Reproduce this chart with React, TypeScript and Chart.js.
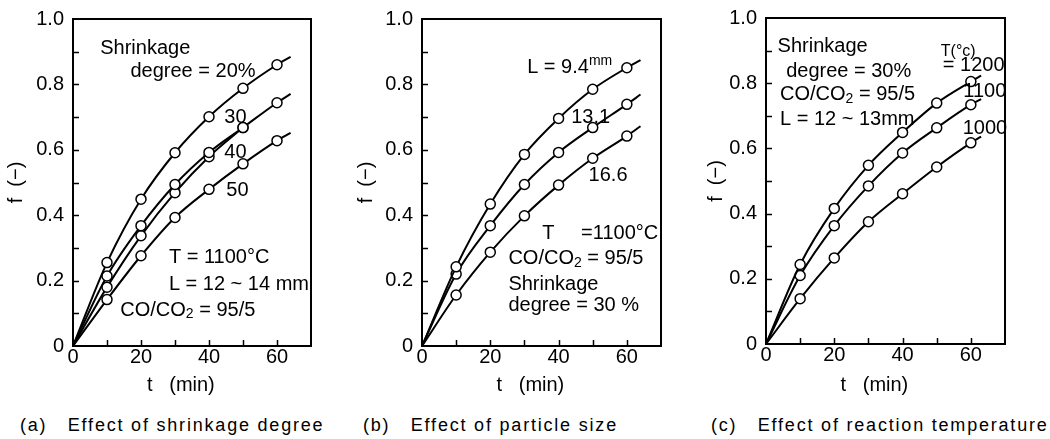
import React, { useEffect, useRef } from "react";
import { Chart, registerables } from "chart.js";

Chart.register(...registerables);

// ---- data ----
const tA = [0, 10, 20, 30, 40, 50, 60, 64];
const tA40 = [0, 10, 20, 30, 40, 50];
const fA20 = [0, 0.255, 0.449, 0.591, 0.701, 0.788, 0.86, 0.884];
const fA30 = [0, 0.214, 0.368, 0.494, 0.592, 0.668, 0.744, 0.771];
const fA40 = [0, 0.18, 0.337, 0.469, 0.579, 0.668];
const fA50 = [0, 0.142, 0.276, 0.393, 0.479, 0.557, 0.628, 0.652];

const tB = [0, 10, 20, 30, 40, 50, 60, 64];
const fB94 = [0, 0.242, 0.434, 0.586, 0.696, 0.785, 0.851, 0.874];
const fB131 = [0, 0.22, 0.368, 0.494, 0.592, 0.668, 0.739, 0.769];
const fB166 = [0, 0.156, 0.287, 0.398, 0.492, 0.574, 0.642, 0.672];

const tC = [0, 10, 20, 30, 40, 50, 60, 63];
const fC1200 = [0, 0.244, 0.416, 0.548, 0.649, 0.739, 0.805, 0.823];
const fC1100 = [0, 0.21, 0.363, 0.485, 0.586, 0.663, 0.734, 0.751];
const fC1000 = [0, 0.139, 0.264, 0.375, 0.461, 0.543, 0.617, 0.636];

const yTickLabels = ["0", "0.2", "0.4", "0.6", "0.8", "1.0"];
const xTickLabels = ["0", "20", "40", "60"];
const xMinorTicks = [10, 20, 30, 40, 50, 60];
const yMinorTicks = [0.1, 0.2, 0.3, 0.4, 0.5, 0.6, 0.7, 0.8, 0.9];

const captions = [
  "(a)   Effect of shrinkage degree",
  "(b)   Effect of particle size",
  "(c)   Effect of reaction temperature",
];

const FONT = "'Liberation Sans', Arial, sans-serif";

type Seg = { s: string; sub?: boolean; sup?: boolean };
type Note = { t: number; v: number; segs: Seg[]; size?: number };

const CO = (rest: string): Seg[] => [{ s: "CO/CO" }, { s: "2", sub: true }, { s: rest }];

const notesA: Note[] = [
  { t: 8.0, v: 0.91, segs: [{ s: "Shrinkage" }] },
  { t: 16.9, v: 0.84, segs: [{ s: "degree = 20%" }] },
  { t: 44.5, v: 0.7, segs: [{ s: "30" }] },
  { t: 44.5, v: 0.593, segs: [{ s: "40" }] },
  { t: 45.1, v: 0.477, segs: [{ s: "50" }] },
  { t: 28.2, v: 0.27, segs: [{ s: "T = 1100°C" }] },
  { t: 28.2, v: 0.187, segs: [{ s: "L = 12 ~ 14 mm" }] },
  { t: 13.9, v: 0.11, segs: CO(" = 95/5") },
];
const notesB: Note[] = [
  { t: 30.8, v: 0.853, segs: [{ s: "L = 9.4" }, { s: "mm", sup: true }] },
  { t: 43.7, v: 0.7, segs: [{ s: "13.1" }] },
  { t: 48.8, v: 0.522, segs: [{ s: "16.6" }] },
  { t: 35.2, v: 0.344, segs: [{ s: "T" }] },
  { t: 46.6, v: 0.344, segs: [{ s: "=1100°C" }] },
  { t: 25.3, v: 0.268, segs: CO(" = 95/5") },
  { t: 25.3, v: 0.187, segs: [{ s: "Shrinkage" }] },
  { t: 25.3, v: 0.125, segs: [{ s: "degree = 30 %" }] },
];
const notesC: Note[] = [
  { t: 3.4, v: 0.912, segs: [{ s: "Shrinkage" }] },
  { t: 5.9, v: 0.835, segs: [{ s: "degree = 30%" }] },
  { t: 4.1, v: 0.764, segs: CO(" = 95/5") },
  { t: 4.1, v: 0.688, segs: [{ s: "L = 12 ~ 13mm" }] },
  { t: 51.2, v: 0.896, segs: [{ s: "T(°c)" }], size: 16 },
  { t: 51.8, v: 0.854, segs: [{ s: "= 1200" }] },
  { t: 57.8, v: 0.774, segs: [{ s: "1100" }] },
  { t: 57.6, v: 0.66, segs: [{ s: "1000" }] },
];

type Panel = {
  left: number;
  yWidth: number;
  xHeight: number;
  padTop: number;
  padRight: number;
  series: { t: number[]; f: number[] }[];
  notes: Note[];
  caption: string;
  captionLeft: number;
};

const panels: Panel[] = [
  {
    left: 0, yWidth: 73, xHeight: 54, padTop: 19, padRight: 39,
    series: [
      { t: tA, f: fA20 }, { t: tA, f: fA30 }, { t: tA40, f: fA40 }, { t: tA, f: fA50 },
    ],
    notes: notesA, caption: captions[0], captionLeft: 20,
  },
  {
    left: 350, yWidth: 72, xHeight: 54, padTop: 19, padRight: 39,
    series: [{ t: tB, f: fB94 }, { t: tB, f: fB131 }, { t: tB, f: fB166 }],
    notes: notesB, caption: captions[1], captionLeft: 363,
  },
  {
    left: 700, yWidth: 66, xHeight: 56, padTop: 18, padRight: 45,
    series: [{ t: tC, f: fC1200 }, { t: tC, f: fC1100 }, { t: tC, f: fC1000 }],
    notes: notesC, caption: captions[2], captionLeft: 711,
  },
];

const boxPlugin = {
  id: "box",
  afterDraw(chart: any) {
    const { ctx, chartArea: a } = chart;
    const xs = chart.scales.x;
    const ys = chart.scales.y;
    ctx.save();
    ctx.strokeStyle = "#000";
    ctx.lineWidth = 1.5;
    ctx.beginPath();
    for (const t of xMinorTicks) {
      const x = Math.round(xs.getPixelForValue(t)) + 0.5;
      ctx.moveTo(x, a.bottom);
      ctx.lineTo(x, a.bottom - 6);
    }
    for (const v of yMinorTicks) {
      const y = Math.round(ys.getPixelForValue(v)) + 0.5;
      ctx.moveTo(a.left, y);
      ctx.lineTo(a.left + 6, y);
    }
    ctx.stroke();
    ctx.lineWidth = 2;
    ctx.strokeRect(a.left, a.top, a.right - a.left, a.bottom - a.top);
    ctx.restore();
  },
};

const notesPlugin = {
  id: "notes",
  afterDatasetsDraw(chart: any, _args: any, opts: any) {
    const notes: Note[] = opts.notes || [];
    const { ctx } = chart;
    const xs = chart.scales.x;
    const ys = chart.scales.y;
    ctx.save();
    ctx.fillStyle = "#000";
    ctx.textBaseline = "middle";
    ctx.textAlign = "left";
    for (const n of notes) {
      const size = n.size || 20;
      let x = xs.getPixelForValue(n.t);
      const y = ys.getPixelForValue(n.v);
      for (const sg of n.segs) {
        const small = sg.sub || sg.sup;
        const fs = small ? Math.round(size * 0.7) : size;
        ctx.font = `${fs}px ${FONT}`;
        const dy = sg.sub ? size * 0.22 : sg.sup ? -size * 0.3 : 0;
        ctx.fillText(sg.s, x, y + dy);
        x += ctx.measureText(sg.s).width;
      }
    }
    ctx.restore();
  },
};

function PanelChart({ p }: { p: Panel }) {
  const ref = useRef<HTMLCanvasElement | null>(null);
  useEffect(() => {
    if (!ref.current) return;
    const datasets = p.series.map((s) => ({
      data: s.t.map((t, i) => ({ x: t, y: s.f[i] })),
      borderColor: "#000",
      borderWidth: 2,
      pointRadius: s.t.map((t) => (t % 10 === 0 && t > 0 ? 5 : 0)),
      pointBackgroundColor: "#fff",
      pointBorderColor: "#000",
      pointBorderWidth: 1.5,
      cubicInterpolationMode: "monotone" as const,
      fill: false,
    }));
    const chart = new Chart(ref.current, {
      type: "line",
      data: { datasets },
      plugins: [boxPlugin, notesPlugin],
      options: {
        animation: false,
        responsive: false,
        events: [],
        layout: { padding: { top: p.padTop, right: p.padRight, left: 0, bottom: 0 } },
        plugins: {
          legend: { display: false },
          tooltip: { enabled: false },
          notes: { notes: p.notes },
        } as any,
        scales: {
          x: {
            type: "linear",
            min: 0,
            max: 70,
            border: { display: false },
            grid: { display: false, drawOnChartArea: false, drawTicks: false },
            ticks: {
              stepSize: 10,
              autoSkip: false,
              maxRotation: 0,
              padding: -1,
              color: "#000",
              font: { size: 20, family: FONT },
              callback: (v: any) => {
                const s = String(v);
                return xTickLabels.includes(s) ? s : "";
              },
            },
            title: {
              display: true,
              text: "t   (min)    ",
              color: "#000",
              font: { size: 20, family: FONT },
              padding: { top: 0, bottom: 3 },
            },
            afterFit: (scale: any) => {
              scale.height = p.xHeight;
              scale.paddingLeft = 0;
              scale.paddingRight = 0;
            },
          },
          y: {
            type: "linear",
            min: 0,
            max: 1,
            border: { display: false },
            grid: { display: false, drawOnChartArea: false, drawTicks: false },
            ticks: {
              stepSize: 0.1,
              autoSkip: false,
              padding: 9,
              color: "#000",
              font: { size: 20, family: FONT },
              callback: (v: any) => {
                const n = Math.round(Number(v) * 10);
                if (n % 2 !== 0) return "";
                return yTickLabels[n / 2];
              },
            },
            title: {
              display: true,
              text: "f  (−)",
              color: "#000",
              font: { size: 20, family: FONT },
              padding: { top: 4, bottom: 0 },
            },
            afterFit: (scale: any) => {
              scale.width = p.yWidth;
              scale.paddingTop = 0;
              scale.paddingBottom = 0;
            },
          },
        },
      },
    });
    return () => chart.destroy();
  }, [p]);
  return (
    <canvas
      ref={ref}
      width={350}
      height={400}
      style={{ position: "absolute", left: p.left, top: 0, width: 350, height: 400 }}
    />
  );
}

export default function App() {
  return (
    <div
      style={{
        position: "absolute",
        left: 0,
        top: 0,
        width: 1050,
        height: 439,
        background: "#fff",
        overflow: "hidden",
      }}
    >
      {panels.map((p, i) => (
        <PanelChart key={i} p={p} />
      ))}
      {panels.map((p, i) => (
        <div
          key={"c" + i}
          style={{
            position: "absolute",
            left: p.captionLeft,
            top: 413,
            fontFamily: FONT,
            fontSize: 18,
            letterSpacing: "1.8px",
            whiteSpace: "pre",
            color: "#000",
            lineHeight: "24px",
          }}
        >
          {p.caption}
        </div>
      ))}
    </div>
  );
}
